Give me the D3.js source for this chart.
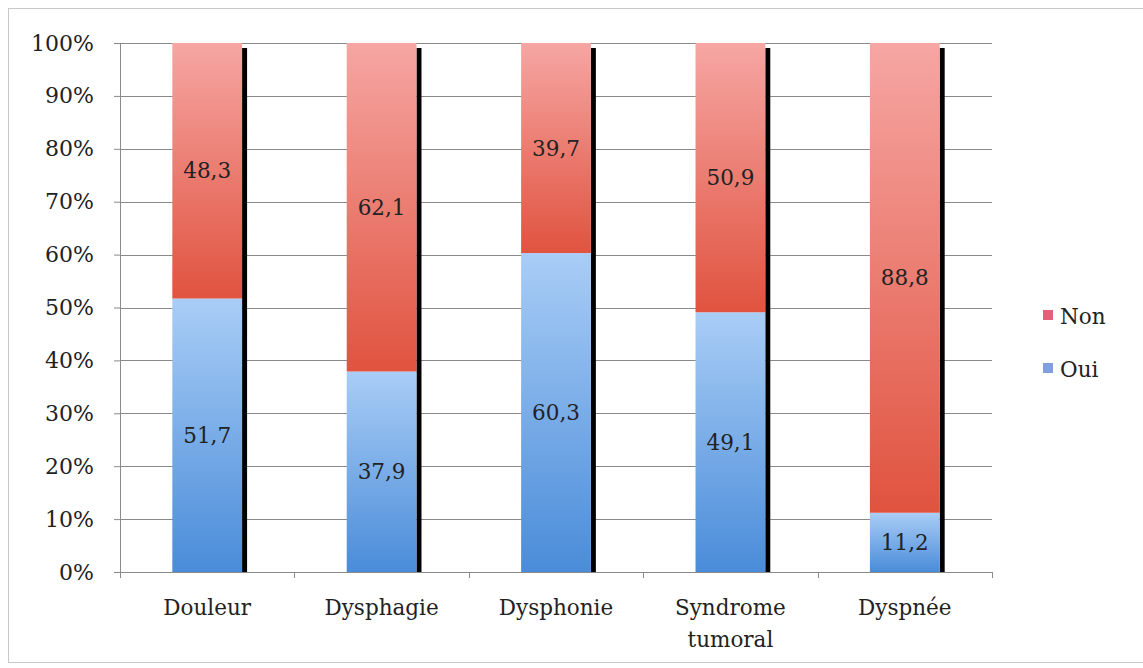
<!DOCTYPE html>
<html>
<head>
<meta charset="utf-8">
<script src="https://cdn.jsdelivr.net/npm/d3@7"></script>
<style>
  body { margin: 0; background: #fff; }
  text { font-family: "DejaVu Serif", serif; fill: #222; }
</style>
</head>
<body>
<div id="vis"></div>
<script>
// data
var categories = ["Douleur", "Dysphagie", "Dysphonie", "Syndrome\ntumoral", "Dyspnée"];
var oui = [51.7, 37.9, 60.3, 49.1, 11.2];
var non = [48.3, 62.1, 39.7, 50.9, 88.8];
var yTicks = [0, 10, 20, 30, 40, 50, 60, 70, 80, 90, 100];
var seriesNames = ["Non", "Oui"];

var width = 1143, height = 668;
var margin = { left: 120, top: 43, right: 151, bottom: 96 };
var innerW = width - margin.left - margin.right;
var innerH = height - margin.top - margin.bottom;
var fontSize = "21.5px";

var svg = d3.select("#vis").append("svg")
    .attr("width", width)
    .attr("height", height);

// outer frame
svg.append("rect")
    .attr("x", 8.5).attr("y", 8.5)
    .attr("width", 1150).attr("height", 654)
    .attr("fill", "none")
    .attr("stroke", "#c8c8c8");

var defs = svg.append("defs");
var gRed = defs.append("linearGradient").attr("id", "gradRed")
    .attr("x1", 0).attr("y1", 0).attr("x2", 0).attr("y2", 1);
gRed.append("stop").attr("offset", "0%").attr("stop-color", "#f6a6a3");
gRed.append("stop").attr("offset", "100%").attr("stop-color", "#e0533f");
var gBlue = defs.append("linearGradient").attr("id", "gradBlue")
    .attr("x1", 0).attr("y1", 0).attr("x2", 0).attr("y2", 1);
gBlue.append("stop").attr("offset", "0%").attr("stop-color", "#a9cdf6");
gBlue.append("stop").attr("offset", "100%").attr("stop-color", "#4a8cd9");

var g = svg.append("g")
    .attr("transform", "translate(" + margin.left + "," + margin.top + ")");

var x = d3.scaleBand()
    .domain(categories)
    .range([0, innerW])
    .paddingInner(0.6)
    .paddingOuter(0.3);

var y = d3.scaleLinear()
    .domain([0, 100])
    .range([innerH, 0]);

// gridlines
g.selectAll(".grid")
    .data(yTicks)
    .enter().append("line")
    .attr("class", "grid")
    .attr("x1", 0).attr("x2", innerW)
    .attr("y1", function(d) { return Math.round(y(d)) + 0.5; })
    .attr("y2", function(d) { return Math.round(y(d)) + 0.5; })
    .attr("stroke", "#8a8a8a")
    .attr("stroke-width", 1);

// y axis
var yAxis = g.append("g")
    .call(d3.axisLeft(y).tickValues(yTicks).tickSize(6).tickPadding(20)
        .tickFormat(function(d) { return d + "%"; }));
yAxis.select(".domain").attr("stroke", "#8a8a8a");
yAxis.selectAll(".tick line").attr("stroke", "#8a8a8a");
yAxis.selectAll("text")
    .style("font-family", "DejaVu Serif")
    .style("font-size", "22px")
    .attr("fill", "#222");

// x axis boundary ticks
var step = innerW / categories.length;
var bounds = d3.range(categories.length + 1);
g.selectAll(".xtick")
    .data(bounds)
    .enter().append("line")
    .attr("class", "xtick")
    .attr("x1", function(d) { return Math.round(d * step) + 0.5; })
    .attr("x2", function(d) { return Math.round(d * step) + 0.5; })
    .attr("y1", innerH)
    .attr("y2", innerH + 6)
    .attr("stroke", "#8a8a8a");

// shadows
g.selectAll(".shadow")
    .data(categories)
    .enter().append("rect")
    .attr("class", "shadow")
    .attr("x", function(d) { return x(d) + x.bandwidth(); })
    .attr("y", y(100) + 5)
    .attr("width", 5)
    .attr("height", innerH - 5)
    .attr("fill", "#000");

// oui segments
g.selectAll(".oui")
    .data(categories)
    .enter().append("rect")
    .attr("class", "oui")
    .attr("x", function(d) { return x(d); })
    .attr("y", function(d, i) { return y(oui[i]); })
    .attr("width", x.bandwidth())
    .attr("height", function(d, i) { return innerH - y(oui[i]); })
    .attr("fill", "url(#gradBlue)");

// non segments
g.selectAll(".non")
    .data(categories)
    .enter().append("rect")
    .attr("class", "non")
    .attr("x", function(d) { return x(d); })
    .attr("y", function(d, i) { return y(oui[i] + non[i]); })
    .attr("width", x.bandwidth())
    .attr("height", function(d, i) { return y(oui[i]) - y(oui[i] + non[i]); })
    .attr("fill", "url(#gradRed)");

function fmt(v) { return v.toFixed(1).replace(".", ","); }

// value labels
g.selectAll(".lblOui")
    .data(categories)
    .enter().append("text")
    .attr("x", function(d) { return x(d) + x.bandwidth() / 2; })
    .attr("y", function(d, i) { return (y(0) + y(oui[i])) / 2; })
    .attr("dy", "0.35em")
    .attr("text-anchor", "middle")
    .style("font-size", fontSize)
    .text(function(d, i) { return fmt(oui[i]); });

g.selectAll(".lblNon")
    .data(categories)
    .enter().append("text")
    .attr("x", function(d) { return x(d) + x.bandwidth() / 2; })
    .attr("y", function(d, i) { return (y(oui[i]) + y(100)) / 2; })
    .attr("dy", "0.35em")
    .attr("text-anchor", "middle")
    .style("font-size", fontSize)
    .text(function(d, i) { return fmt(non[i]); });

// category labels
var cat = g.selectAll(".cat")
    .data(categories)
    .enter().append("text")
    .attr("class", "cat")
    .attr("text-anchor", "middle")
    .style("font-size", fontSize)
    .attr("transform", function(d) {
        return "translate(" + (x(d) + x.bandwidth() / 2) + "," + (innerH + 43) + ")";
    });
cat.selectAll("tspan")
    .data(function(d) { return d.split("\n"); })
    .enter().append("tspan")
    .attr("x", 0)
    .attr("dy", function(d, i) { return i === 0 ? 0 : 32; })
    .text(function(d) { return d; });

// legend
var legend = svg.append("g").attr("transform", "translate(1043,310)");
var leg = legend.selectAll(".leg")
    .data(seriesNames)
    .enter().append("g")
    .attr("transform", function(d, i) { return "translate(0," + i * 53 + ")"; });
leg.append("rect")
    .attr("width", 10).attr("height", 10)
    .attr("fill", function(d) { return d === "Non" ? "#e4607a" : "#7f9fe0"; });
leg.append("text")
    .attr("x", 17).attr("y", 6)
    .attr("dy", "0.35em")
    .style("font-size", fontSize)
    .text(function(d) { return d; });
</script>
</body>
</html>
